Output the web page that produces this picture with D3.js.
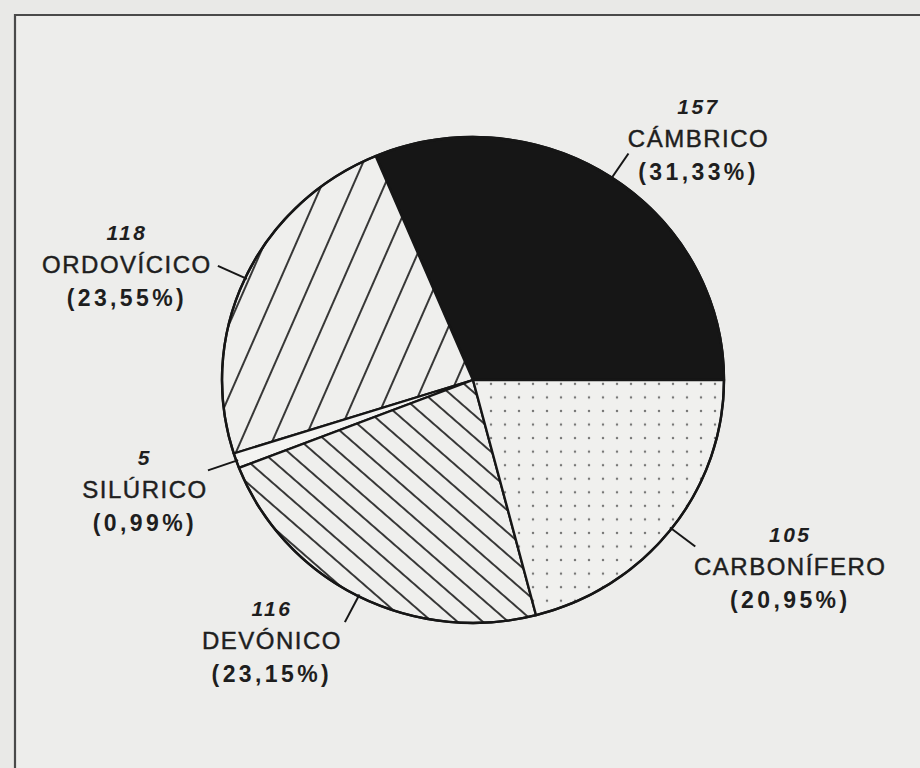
<!DOCTYPE html>
<html><head><meta charset="utf-8">
<script src="https://cdn.jsdelivr.net/npm/d3@7"></script>
<style>html,body{margin:0;padding:0;background:#e9e9e7;} svg{display:block}</style>
</head><body><svg id="chart" width="920" height="768"></svg>
<script>
// ---- data ----
const periods = ["CÁMBRICO", "ORDOVÍCICO", "SILÚRICO", "DEVÓNICO", "CARBONÍFERO"];
const counts = [157, 118, 5, 116, 105];
const percentLabels = ["(31,33%)", "(23,55%)", "(0,99%)", "(23,15%)", "(20,95%)"];

// ---- layout / style (kept apart from the data) ----
const W = 920, H = 768;
const cx = 473, cy = 380, R = 251, sy = 0.968;
const tickOuter = 281;
const labelOffsets = [
  {dx: 70, dy: -39},
  {dx: -91, dy: -26},
  {dx: -63, dy: -5},
  {dx: -73, dy: -6},
  {dx: 95, dy: -4}
];
const lineH = 33;
const fills = ["#161616", "url(#hatchOrd)", "#f3f3f1", "url(#hatchDev)", "url(#dotsCarb)"];
const font = "'Liberation Sans', Arial, Helvetica, sans-serif";
const ink = "#1e1e1e";
const boxFill = "#ededeb";

const svg = d3.select("#chart");
const defs = svg.append("defs");

// Ordovician: "/" hatch
const pO = defs.append("pattern").attr("id", "hatchOrd").attr("patternUnits", "userSpaceOnUse")
  .attr("width", 29).attr("height", 29).attr("patternTransform", "rotate(23)");
pO.append("rect").attr("width", 29).attr("height", 29).attr("fill", "#efefed");
pO.append("line").attr("x1", 14).attr("y1", 0).attr("x2", 14).attr("y2", 29)
  .attr("stroke", "#161616").attr("stroke-width", 1.7);

// Devonian: "\" hatch
const pD = defs.append("pattern").attr("id", "hatchDev").attr("patternUnits", "userSpaceOnUse")
  .attr("width", 17).attr("height", 17).attr("patternTransform", "rotate(-48)");
pD.append("rect").attr("width", 17).attr("height", 17).attr("fill", "#efefed");
pD.append("line").attr("x1", 8).attr("y1", 0).attr("x2", 8).attr("y2", 17)
  .attr("stroke", "#161616").attr("stroke-width", 1.7);

// Carboniferous: dots
const pC = defs.append("pattern").attr("id", "dotsCarb").attr("patternUnits", "userSpaceOnUse")
  .attr("width", 14).attr("height", 14);
pC.append("rect").attr("width", 14).attr("height", 14).attr("fill", "#f0f0ee");
pC.append("circle").attr("cx", 4).attr("cy", 4).attr("r", 1.25).attr("fill", "#777");

// page + frame
svg.append("rect").attr("width", W).attr("height", H).attr("fill", "#e9e9e7");
svg.append("rect").attr("x", 15).attr("y", 15).attr("width", W).attr("height", H).attr("fill", boxFill);
svg.append("path").attr("d", `M15,${H + 5} V15 H${W + 5}`)
  .attr("fill", "none").attr("stroke", "#4a4a4a").attr("stroke-width", 2.2);

// pie (counter-clockwise from the horizontal right radius)
const pie = d3.pie().sort(null).value(d => d)
  .startAngle(Math.PI / 2).endAngle(Math.PI / 2 - 2 * Math.PI);
const arcs = pie(counts);
const arc = d3.arc().innerRadius(0).outerRadius(R);
const tickIn = d3.arc().innerRadius(R - 2).outerRadius(R - 2);
const tickOut = d3.arc().innerRadius(tickOuter).outerRadius(tickOuter);

const g = svg.append("g").attr("transform", `translate(${cx},${cy}) scale(1,${sy})`);
g.selectAll("path.slice").data(arcs).join("path")
  .attr("class", "slice")
  .attr("d", arc)
  .attr("fill", (d, i) => fills[i])
  .attr("stroke", "#161616")
  .attr("stroke-width", 2.4)
  .attr("stroke-linejoin", "round");

g.append("circle").attr("r", R).attr("fill", "none").attr("stroke", "#161616").attr("stroke-width", 2.4);

g.selectAll("line.tick").data(arcs).join("line")
  .attr("class", "tick")
  .attr("x1", d => tickIn.centroid(d)[0]).attr("y1", d => tickIn.centroid(d)[1])
  .attr("x2", d => tickOut.centroid(d)[0]).attr("y2", d => tickOut.centroid(d)[1])
  .attr("stroke", "#161616").attr("stroke-width", 2);

// labels
const labels = svg.selectAll("g.lab").data(arcs).join("g")
  .attr("class", "lab")
  .attr("transform", (d, i) => {
    const c = tickOut.centroid(d);
    return `translate(${cx + c[0] + labelOffsets[i].dx},${cy + c[1] * sy + labelOffsets[i].dy})`;
  });

labels.append("text")
  .attr("x", 0).attr("y", 0)
  .attr("text-anchor", "middle")
  .attr("font-family", font).attr("font-size", 21).attr("font-weight", "bold")
  .attr("font-style", "italic").attr("letter-spacing", 2.5)
  .attr("fill", ink)
  .text(d => d.data);

labels.append("text")
  .attr("x", 0).attr("y", lineH)
  .attr("text-anchor", "middle")
  .attr("font-family", font).attr("font-size", 24)
  .attr("letter-spacing", 1.5)
  .attr("fill", ink).attr("stroke", ink).attr("stroke-width", 0.45)
  .text((d, i) => periods[i]);

labels.append("text")
  .attr("x", 0).attr("y", 2 * lineH)
  .attr("text-anchor", "middle")
  .attr("font-family", font).attr("font-size", 23).attr("font-weight", "bold")
  .attr("letter-spacing", 3.4)
  .attr("fill", ink)
  .text((d, i) => percentLabels[i]);
</script>
</body></html>
